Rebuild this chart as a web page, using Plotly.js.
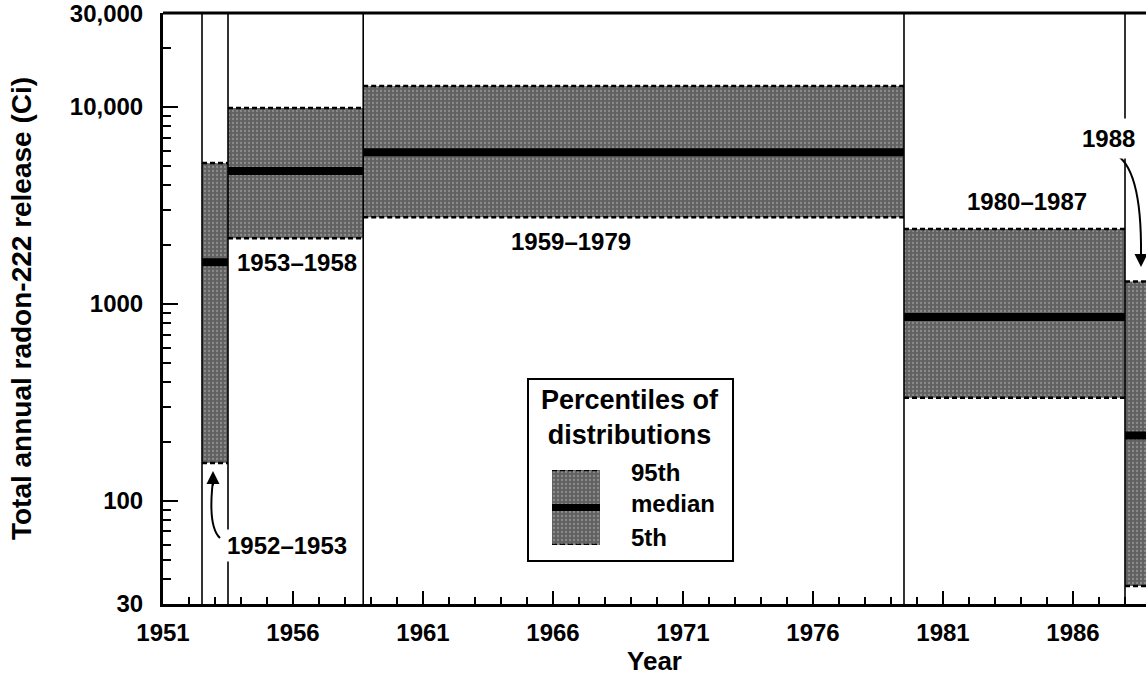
<!DOCTYPE html>
<html><head><meta charset="utf-8">
<script src="https://cdn.plot.ly/plotly-3.0.1.min.js"></script>
<style>html,body{margin:0;padding:0;background:#fff;overflow:hidden}#chart{width:1146px;height:685px}</style>
</head><body><div id="chart"></div>
<script>
// ---- data ----
const periods      = ['1952–1953', '1953–1958', '1959–1979', '1980–1987', '1988'];
const periodStart  = [1952.5, 1953.5, 1958.7, 1979.5, 1988.0];
const periodEnd    = [1953.5, 1958.7, 1979.5, 1988.0, 1989.0];
const pct95        = [5200, 9900, 12800, 2400, 1300];
const pctMedian    = [1630, 4730, 5900, 860, 215];
const pct5         = [156, 2160, 2760, 334, 37];
const yTickVals    = [30, 100, 1000, 10000, 30000];
const yTickText    = ['30', '100', '1000', '10,000', '30,000'];
const yMinorVals   = [40, 50, 60, 70, 80, 90, 200, 300, 400, 500, 600, 700, 800, 900,
                      2000, 3000, 4000, 5000, 6000, 7000, 8000, 9000, 20000];
const legendLabels = ['95th', 'median', '5th'];

// ---- styling / geometry helpers ----
const FONT = '"Liberation Sans", Arial, Helvetica, sans-serif';
const PL = 163, PR = 1146, PT = 13, PB = 604;
const px = x => (x - PL) / (PR - PL);
const py = y => (PB - y) / (PB - PT);
const fillStyle = {
  fillcolor: '#616161',
  fillpattern: {shape: '.', fillmode: 'overlay', fgcolor: '#b8b8b8', size: 4, solidity: 0.25}
};
const dashStyle = {color: '#000', width: 2.5, dash: '5px,3px'};

const traces = [];
periods.forEach((p, i) => {
  const s = periodStart[i], e = periodEnd[i];
  traces.push(Object.assign({
    type: 'scatter', mode: 'lines', x: [s, e, e, s, s],
    y: [pct5[i], pct5[i], pct95[i], pct95[i], pct5[i]],
    fill: 'toself', line: {width: 0, color: 'rgba(0,0,0,0)'}, hoverinfo: 'skip', name: p
  }, fillStyle));
  traces.push({type: 'scatter', mode: 'lines', x: [s, e], y: [pct95[i], pct95[i]], line: dashStyle, hoverinfo: 'skip'});
  traces.push({type: 'scatter', mode: 'lines', x: [s, e], y: [pct5[i], pct5[i]], line: dashStyle, hoverinfo: 'skip'});
  traces.push({type: 'scatter', mode: 'lines', x: [s, e], y: [pctMedian[i], pctMedian[i]], line: {color: '#000', width: 8}, hoverinfo: 'skip'});
});
// period separators spanning full height
periodStart.forEach(b => {
  traces.push({type: 'scatter', mode: 'lines', x: [b, b], y: [yTickVals[0], yTickVals[yTickVals.length - 1]],
    line: {color: '#000', width: 1.6}, hoverinfo: 'skip'});
});
// invisible trace so the minor-tick overlay axis is drawn
traces.push({type: 'scatter', mode: 'none', x: [periodStart[0]], y: [pctMedian[0]], yaxis: 'y3', hoverinfo: 'skip'});

// legend swatch on an inset axis
const sw = {xaxis: 'x2', yaxis: 'y2', type: 'scatter', mode: 'lines', hoverinfo: 'skip'};
traces.push(Object.assign({}, sw, fillStyle, {x: [0, 1, 1, 0, 0], y: [0, 0, 1, 1, 0], fill: 'toself', line: {width: 0}}));
traces.push(Object.assign({}, sw, {x: [0, 1], y: [1, 1], line: dashStyle}));
traces.push(Object.assign({}, sw, {x: [0, 1], y: [0, 0], line: dashStyle}));
traces.push(Object.assign({}, sw, {x: [0, 1], y: [0.5, 0.5], line: {color: '#000', width: 7}}));

const annFont = {family: FONT, size: 24, color: '#000', weight: 'bold'};
const annotations = [
  {text: periods[1], x: px(297), y: py(262)},
  {text: periods[2], x: px(571), y: py(241)},
  {text: periods[3], x: px(1027), y: py(202)},
  {text: periods[4], x: px(1108), y: py(138), bgcolor: '#fff', borderpad: 6},
  {text: periods[0], x: px(287), y: py(545), bgcolor: '#fff', borderpad: 2},
  // legend
  {text: 'Percentiles of<br>distributions', x: px(630), y: py(418), font: {family: FONT, size: 27, color: '#000', weight: 'bold'}},
  {text: legendLabels[0], x: px(629), y: py(472), xanchor: 'left'},
  {text: legendLabels[1], x: px(629), y: py(503), xanchor: 'left'},
  {text: legendLabels[2], x: px(629), y: py(537), xanchor: 'left'},
  // arrow heads
  {text: '', x: px(1141), y: py(267), showarrow: true, ax: 0, ay: -16, arrowhead: 2, arrowsize: 1.3, arrowwidth: 2, arrowcolor: '#000'},
  {text: '', x: px(213), y: py(471), showarrow: true, ax: 0, ay: 16, arrowhead: 2, arrowsize: 1.3, arrowwidth: 2, arrowcolor: '#000'}
].map(a => Object.assign({xref: 'paper', yref: 'paper', showarrow: false, font: annFont, xanchor: 'center', yanchor: 'middle'}, a));

const P = (x, y) => px(x).toFixed(5) + ',' + py(y).toFixed(5);
const shapes = [
  {type: 'line', xref: 'paper', yref: 'paper', x0: 0, x1: 1, y0: 1, y1: 1, line: {color: '#000', width: 3}},
  {type: 'rect', xref: 'paper', yref: 'paper', x0: px(528), x1: px(733), y0: py(561), y1: py(379),
   line: {color: '#000', width: 2}, fillcolor: '#fff', layer: 'below'},
  {type: 'path', xref: 'paper', yref: 'paper', path: `M${P(1113,153)} Q${P(1142,165)} ${P(1141,255)}`, line: {color: '#000', width: 2}},
  {type: 'path', xref: 'paper', yref: 'paper', path: `M${P(220,538)} Q${P(209,528)} ${P(212,490)} L${P(213,480)}`, line: {color: '#000', width: 2}}
];

const tickFont = {family: FONT, size: 24, color: '#000', weight: 'bold'};
const yRange = [Math.log10(30) - 0.0005, Math.log10(30000) + 0.0005];
const layout = {
  width: 1146, height: 685,
  margin: {l: PL, r: 0, t: PT, b: 685 - PB},
  paper_bgcolor: '#fff', plot_bgcolor: 'rgba(0,0,0,0)',
  showlegend: false,
  font: {family: FONT, color: '#000'},
  xaxis: {
    range: [1951, 1951 + (PR - PL) / 26], tick0: 1951, dtick: 5,
    ticks: 'inside', ticklen: 13, tickwidth: 2, tickcolor: '#000',
    showline: true, linewidth: 3, linecolor: '#000', showgrid: false, zeroline: false,
    tickfont: tickFont, ticklabelstandoff: 5, ticklabeloverflow: 'allow',
    minor: {tick0: 1951, dtick: 1, ticks: 'inside', ticklen: 7, tickwidth: 2, tickcolor: '#000', showgrid: false},
    title: {text: 'Year', font: {family: FONT, size: 26, weight: 'bold', color: '#000'}, standoff: 2}
  },
  yaxis: {
    type: 'log', range: yRange,
    tickmode: 'array', tickvals: yTickVals, ticktext: yTickText,
    ticks: 'inside', ticklen: 15, tickwidth: 2, tickcolor: '#000',
    showline: true, linewidth: 3, linecolor: '#000', showgrid: false, zeroline: false,
    tickfont: tickFont, ticklabelstandoff: 12, ticklabeloverflow: 'allow',
    title: {text: 'Total annual radon-222 release (Ci)', font: {family: FONT, size: 28, weight: 'bold', color: '#000'}, standoff: 30}
  },
  yaxis3: {
    type: 'log', range: yRange, overlaying: 'y', side: 'left', anchor: 'x',
    tickmode: 'array', tickvals: yMinorVals, showticklabels: false,
    ticks: 'inside', ticklen: 8, tickwidth: 2, tickcolor: '#000',
    showline: false, showgrid: false, zeroline: false, fixedrange: true
  },
  xaxis2: {domain: [px(552), px(600)], range: [0, 1], visible: false, fixedrange: true, anchor: 'y2'},
  yaxis2: {domain: [py(545), py(470)], range: [0, 1], visible: false, fixedrange: true, anchor: 'x2'},
  annotations: annotations,
  shapes: shapes
};

Plotly.newPlot('chart', traces, layout, {displayModeBar: false, staticPlot: true});
</script>
</body></html>
